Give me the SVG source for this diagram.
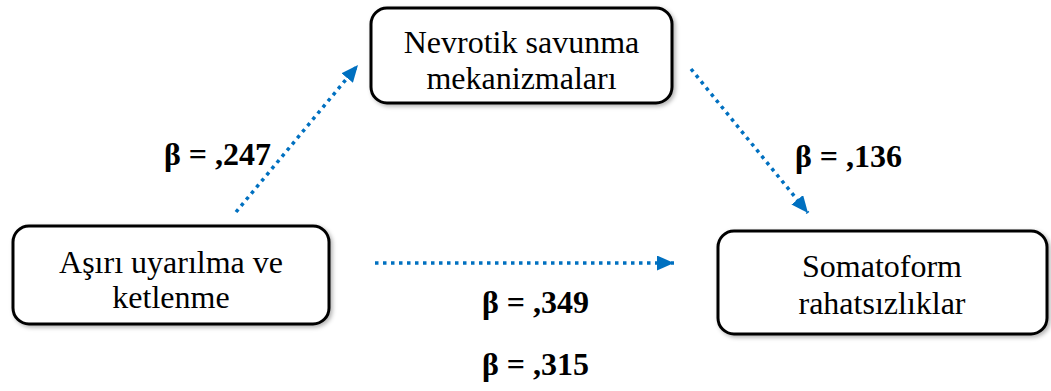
<svg xmlns="http://www.w3.org/2000/svg" width="1051" height="391" viewBox="0 0 1051 391">
<style>
.box{fill:#fff;stroke:#000;stroke-width:3;filter:url(#sh)}
.t{font-family:"Liberation Serif","Times New Roman",serif;font-size:32px;fill:#000;text-anchor:middle}
.b{font-family:"Liberation Serif","Times New Roman",serif;font-size:32px;font-weight:bold;fill:#000}
.c{fill:none;stroke:#0070C0;stroke-width:3.5;stroke-dasharray:3.5 4.5}
</style>
<defs>
<filter id="sh" x="-10%" y="-20%" width="120%" height="140%">
<feDropShadow dx="2" dy="2" stdDeviation="2" flood-color="#000" flood-opacity="0.3"/>
</filter>
<marker id="ah" markerUnits="userSpaceOnUse" markerWidth="17" markerHeight="15" refX="17" refY="7.5" orient="auto">
<path d="M0,0 L17,7.5 L0,15 Z" fill="#0070C0"/>
</marker>
</defs>
<g id="connectors">
<line class="c" x1="236" y1="212" x2="358" y2="65" marker-end="url(#ah)"/>
<line class="c" x1="691" y1="69" x2="808" y2="213" marker-end="url(#ah)"/>
<line class="c" x1="375" y1="263" x2="674" y2="263" marker-end="url(#ah)"/>
</g>
<g id="node-nevrotik">
<rect class="box" x="371" y="8" width="301" height="95" rx="16"/>
<text class="t" x="521.5" y="53">Nevrotik savunma</text>
<text class="t" x="521.5" y="89">mekanizmaları</text>
</g>
<g id="node-asiri">
<rect class="box" x="13" y="226" width="316" height="98" rx="16"/>
<text class="t" x="171" y="273">Aşırı uyarılma ve</text>
<text class="t" x="171" y="308">ketlenme</text>
</g>
<g id="node-somatoform">
<rect class="box" x="718" y="231" width="329" height="103" rx="16"/>
<text class="t" x="882" y="277">Somatoform</text>
<text class="t" x="882" y="314">rahatsızlıklar</text>
</g>
<g id="labels">
<text class="b" x="164" y="165">β = ,247</text>
<text class="b" x="795" y="167">β = ,136</text>
<text class="b" x="482" y="313">β = ,349</text>
<text class="b" x="482" y="375">β = ,315</text>
</g>
</svg>
